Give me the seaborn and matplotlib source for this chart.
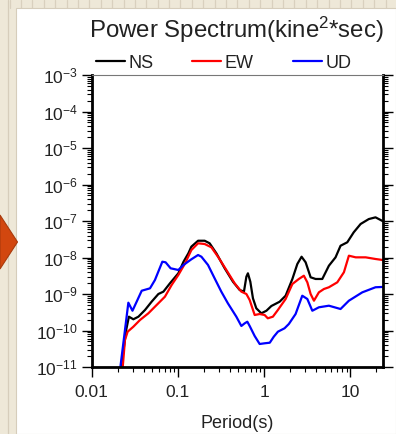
import numpy as np
import pandas as pd
import matplotlib
matplotlib.use('Agg')
import matplotlib.pyplot as plt
import seaborn as sns
from matplotlib.patches import Rectangle, Polygon
from matplotlib.lines import Line2D
from matplotlib.ticker import LogLocator, LogFormatterSciNotation, FixedLocator, FixedFormatter, NullFormatter

# ---------------- data ----------------
components = ['NS', 'EW', 'UD']
colors = ['black', '#FF0000', '#0000FF']

ns_period = [0.0209, 0.0251, 0.0270, 0.0304, 0.0348, 0.0415, 0.0495, 0.0593, 0.0678, 0.0807,
             0.101, 0.116, 0.132, 0.143, 0.171, 0.204, 0.233, 0.279, 0.348, 0.434,
             0.519, 0.582, 0.621, 0.647, 0.690, 0.740, 0.809, 0.925, 1.06, 1.21,
             1.51, 1.77, 2.12, 2.42, 2.71, 3.02, 3.45, 3.94, 4.71, 5.62,
             6.71, 7.67, 9.18, 10.9, 13.1, 16.3, 19.5, 23.5]
ns_power = [3.9e-12, 1.03e-10, 2.39e-10, 2.03e-10, 2.39e-10, 3.65e-10, 6.15e-10, 1.0e-9, 1.16e-9, 1.96e-9,
            3.69e-9, 7.67e-9, 1.30e-8, 1.98e-8, 2.88e-8, 2.88e-8, 2.45e-8, 1.30e-8, 5.06e-9, 2.17e-9,
            1.29e-9, 1.16e-9, 2.98e-9, 3.69e-9, 2.17e-9, 7.62e-10, 4.06e-10, 2.96e-10, 3.48e-10, 4.69e-10,
            6.15e-10, 8.98e-10, 2.58e-9, 6.64e-9, 1.05e-8, 7.38e-9, 2.87e-9, 2.58e-9, 2.58e-9, 5.96e-9,
            1.01e-8, 2.10e-8, 2.61e-8, 4.90e-8, 8.28e-8, 1.13e-7, 1.26e-7, 1.0e-7]

ew_period = [0.0220, 0.0243, 0.0261, 0.0304, 0.0363, 0.0454, 0.0566, 0.0706, 0.0845, 0.101,
             0.121, 0.143, 0.171, 0.204, 0.244, 0.291, 0.364, 0.454, 0.543, 0.621,
             0.678, 0.775, 0.885, 1.01, 1.10, 1.26, 1.44, 1.77, 2.12, 2.52,
             2.88, 3.16, 3.45, 3.77, 4.30, 4.92, 5.62, 7.03, 8.39, 9.58,
             11.5, 15.0, 19.5, 23.5]
ew_power = [3.2e-12, 5.5e-11, 9.27e-11, 1.27e-10, 1.94e-10, 2.96e-10, 5.0e-10, 8.44e-10, 1.77e-9, 3.32e-9,
            6.93e-9, 1.6e-8, 2.45e-8, 2.34e-8, 1.9e-8, 1.05e-8, 4.55e-9, 1.96e-9, 1.16e-9, 1.0e-9,
            6.85e-10, 2.66e-10, 2.83e-10, 2.66e-10, 2.16e-10, 2.39e-10, 3.65e-10, 7.3e-10, 1.88e-9, 2.58e-9,
            3.17e-9, 2.09e-9, 1.0e-9, 6.55e-10, 1.11e-9, 1.37e-9, 1.53e-9, 2.09e-9, 3.94e-9, 1.12e-8,
            1.01e-8, 1.01e-8, 9.1e-9, 8.55e-9]

ud_period = [0.0206, 0.0266, 0.0297, 0.0332, 0.0380, 0.0474, 0.0541, 0.0659, 0.0719, 0.0822,
             0.101, 0.116, 0.143, 0.171, 0.187, 0.223, 0.266, 0.318, 0.379, 0.475,
             0.543, 0.593, 0.637, 0.678, 0.775, 0.885, 1.01, 1.16, 1.29, 1.44,
             1.72, 1.93, 2.31, 2.76, 3.16, 3.61, 4.30, 5.62, 7.67, 9.58,
             13.7, 19.5, 23.5]
ud_power = [4.4e-12, 5.78e-10, 3.48e-10, 6.15e-10, 1.23e-9, 1.43e-9, 2.42e-9, 7.67e-9, 7.38e-9, 5.06e-9,
            4.55e-9, 6.24e-9, 8.93e-9, 1.17e-8, 1.05e-8, 6.24e-9, 2.69e-9, 1.16e-9, 5.56e-10, 2.39e-10,
            1.33e-10, 1.57e-10, 1.74e-10, 1.33e-10, 7.06e-11, 4.27e-11, 4.46e-11, 4.63e-11, 6.76e-11, 9.27e-11,
            1.15e-10, 1.51e-10, 2.83e-10, 8.98e-10, 7.3e-10, 3.48e-10, 4.32e-10, 4.78e-10, 3.88e-10, 6.55e-10,
            1.11e-9, 1.53e-9, 1.56e-9]

xtick_values = [0.01, 0.1, 1, 10]
xtick_labels = ['0.01', '0.1', '1', '10']
ytick_values = [1e-11, 1e-10, 1e-9, 1e-8, 1e-7, 1e-6, 1e-5, 1e-4, 1e-3]
title_text = 'Power Spectrum(kine$^{2}$*sec)'
xlabel_text = 'Period(s)'

# ---------------- style ----------------
sns.set_style('white')
plt.rcParams['font.family'] = ['Liberation Sans', 'DejaVu Sans']
plt.rcParams['mathtext.fontset'] = 'custom'
plt.rcParams['mathtext.rm'] = 'Liberation Sans'
plt.rcParams['mathtext.it'] = 'Liberation Sans:italic'
plt.rcParams['mathtext.bf'] = 'Liberation Sans:bold'
plt.rcParams['mathtext.default'] = 'regular'

df = pd.concat([
    pd.DataFrame({'period': ns_period, 'power': ns_power, 'component': 'NS'}),
    pd.DataFrame({'period': ew_period, 'power': ew_power, 'component': 'EW'}),
    pd.DataFrame({'period': ud_period, 'power': ud_power, 'component': 'UD'}),
], ignore_index=True)

W, H = 396, 434
fig = plt.figure(figsize=(W / 100, H / 100), dpi=100)
fig.patch.set_facecolor('#EEE8D8')

# slide background decoration
for xv in np.arange(9.5, W, 11.4):
    fig.add_artist(Line2D([xv / W, xv / W], [1 - 8 / H, 1], transform=fig.transFigure,
                          color='#D9D0BE', lw=0.9, zorder=-20))
fig.add_artist(Line2D([7.5 / W, 7.5 / W], [0, 1], transform=fig.transFigure,
                      color='#D6CDBB', lw=0.9, zorder=-20))
fig.add_artist(Rectangle((16 / W, 0), 1 - 16 / W, 1 - 8 / H, transform=fig.transFigure,
                         facecolor='white', edgecolor='#D6CDBB', lw=0.8, zorder=-10))
fig.add_artist(Polygon([(0, 1 - 215 / H), (17.5 / W, 1 - 242 / H), (0, 1 - 269 / H)],
                       closed=True, transform=fig.transFigure,
                       facecolor='#D2470F', edgecolor='#A93A0C', lw=0.8, zorder=-5))

ax = fig.add_axes([91.7 / W, 1 - 367 / H, (382.5 - 91.7) / W, (367 - 75) / H])
sns.lineplot(data=df, x='period', y='power', hue='component', hue_order=components,
             palette=dict(zip(components, colors)), estimator=None, sort=False,
             lw=1.6, legend=False, ax=ax)
ax.set_xscale('log')
ax.set_yscale('log')
ax.set_xlim(0.01, 23.5)
ax.set_ylim(1e-11, 1e-3)

ax.xaxis.set_major_locator(FixedLocator(xtick_values))
ax.xaxis.set_major_formatter(FixedFormatter(xtick_labels))
ax.xaxis.set_minor_locator(LogLocator(base=10, subs=np.arange(2, 10), numticks=50))
ax.xaxis.set_minor_formatter(NullFormatter())
ax.yaxis.set_major_locator(FixedLocator(ytick_values))
ax.yaxis.set_major_formatter(LogFormatterSciNotation())
ax.yaxis.set_minor_locator(LogLocator(base=10, subs=np.arange(2, 10), numticks=50))
ax.yaxis.set_minor_formatter(NullFormatter())

for s in ['left', 'bottom', 'right']:
    ax.spines[s].set_color('black')
    ax.spines[s].set_linewidth(2.0)
ax.spines['top'].set_color('#777777')
ax.spines['top'].set_linewidth(0.8)

ax.tick_params(axis='both', which='both', direction='out', color='black', labelcolor='#222222',
               labelsize=12.5)
ax.tick_params(axis='y', which='both', left=True, right=True, labelleft=True, labelright=False, pad=3)
ax.tick_params(axis='x', which='both', bottom=True, top=False, pad=6)
ax.tick_params(which='major', length=7, width=1.0)
ax.tick_params(which='minor', length=3.5, width=0.8)

ax.set_xlabel(xlabel_text, fontsize=13, color='#222222', labelpad=11)
ax.set_ylabel('')

fig.text(236.5 / W, 1 - 30 / H, title_text, ha='center', va='center', fontsize=17.3, color='#222222')

handles = ax.get_lines()[:3]
fig.legend(handles, components, loc='center left', bbox_to_anchor=(96 / W, 1 - 63 / H),
           ncol=3, frameon=False, fontsize=13, handlelength=1.6, handletextpad=0.2,
           columnspacing=2.15, borderpad=0, borderaxespad=0, labelcolor='#222222')

fig.savefig('out.png', dpi=100, facecolor=fig.get_facecolor())
